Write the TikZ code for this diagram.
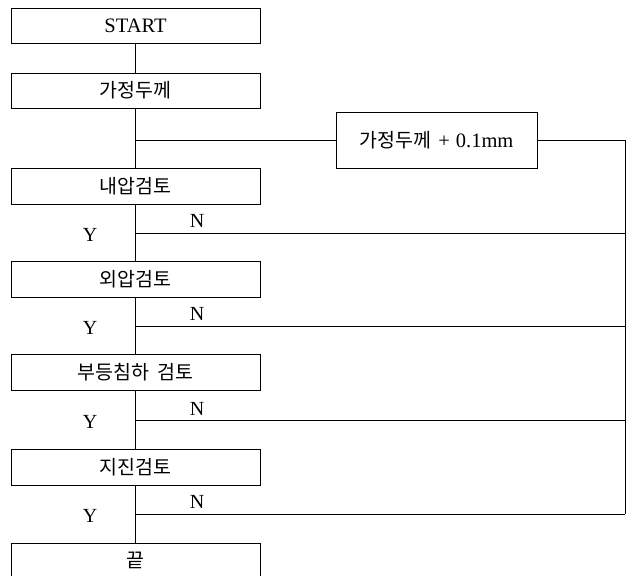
\documentclass[tikz,border=0pt]{standalone}
\usepackage{fontspec}
\setmainfont{Liberation Serif}
\newfontfamily\kr{Noto Sans CJK KR}
\begin{document}
\begin{tikzpicture}[x=1pt,y=-1pt,
  box/.style={draw,line width=1pt,rectangle,minimum width=249pt,minimum height=35pt,inner sep=0pt,font=\fontsize{20.5}{22}\selectfont},
  lbl/.style={font=\fontsize{20}{22}\selectfont,inner sep=0pt},
  ln/.style={line width=1pt}]
\useasboundingbox (0,0) rectangle (630,576);
\node[box] (start) at (135.5,26) {START};
\node[box] (guess) at (135.5,90.5) {\kr\fontsize{19.5}{22}\selectfont 가정두께};
\node[box,minimum height=36pt] (c1) at (135.5,186) {\kr\fontsize{19.5}{22}\selectfont 내압검토};
\node[box,minimum height=36pt] (c2) at (135.5,279) {\kr\fontsize{19.5}{22}\selectfont 외압검토};
\node[box,minimum height=36pt] (c3) at (135.5,372) {\kr\fontsize{19.5}{22}\selectfont 부등침하\hspace{9pt}검토};
\node[box,minimum height=36pt] (c4) at (135.5,467) {\kr\fontsize{19.5}{22}\selectfont 지진검토};
\node[box] (end) at (135.5,560.5) {\kr\fontsize{19.5}{22}\selectfont 끝};
\node[box,minimum width=201pt,minimum height=56pt] (add) at (436.5,140) {{\kr\fontsize{19.5}{22}\selectfont 가정두께}\hspace{7pt}+\hspace{6pt}0.1mm};
\coordinate (j0) at (135.5,140);
\coordinate (r0) at (625,140);
\coordinate (j1) at (135.5,233);
\coordinate (r1) at (625,233);
\coordinate (j2) at (135.5,326);
\coordinate (r2) at (625,326);
\coordinate (j3) at (135.5,420);
\coordinate (r3) at (625,420);
\coordinate (j4) at (135.5,514);
\coordinate (r4) at (625,514);
\draw[ln] (start) -- (guess);
\draw[ln] (guess) -- (c1);
\draw[ln] (c1) -- (c2);
\draw[ln] (c2) -- (c3);
\draw[ln] (c3) -- (c4);
\draw[ln] (c4) -- (end);
\draw[ln] (j0) -- (add.west);
\draw[ln] (add.east) -- (r0) -- (r4);
\draw[ln] (j1) -- (r1);
\draw[ln] (j2) -- (r2);
\draw[ln] (j3) -- (r3);
\draw[ln] (j4) -- (r4);
\node[lbl] (y1) at (90,235) {Y};
\node[lbl] (n1) at (197,221) {N};
\node[lbl] (y2) at (90,328) {Y};
\node[lbl] (n2) at (197,314) {N};
\node[lbl] (y3) at (90,422) {Y};
\node[lbl] (n3) at (197,409) {N};
\node[lbl] (y4) at (90,516) {Y};
\node[lbl] (n4) at (197,502) {N};
\end{tikzpicture}
\end{document}
